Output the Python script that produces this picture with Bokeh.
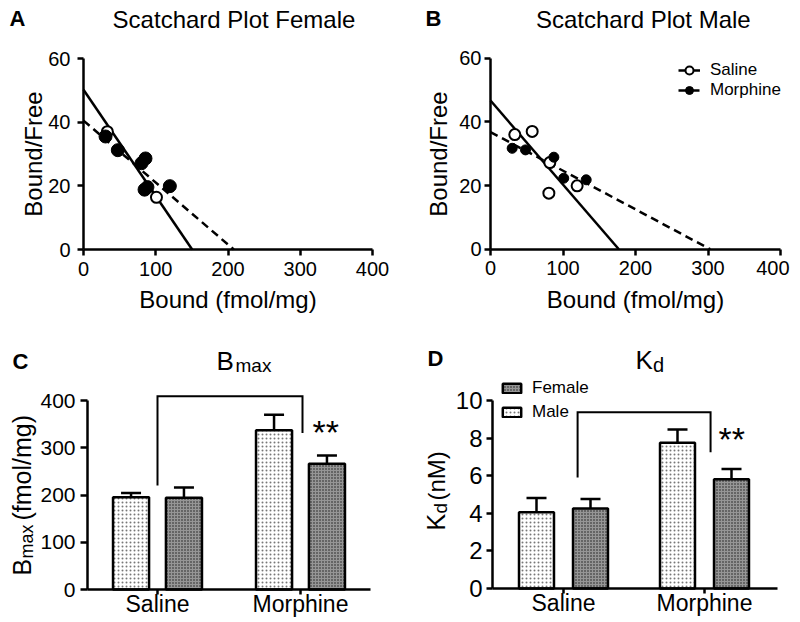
import math
from bokeh.plotting import figure
from bokeh.layouts import column, row
from bokeh.models import (ColumnDataSource, Label, Legend, LegendItem, FixedTicker,
                          Whisker, TeeHead, Range1d)
from bokeh.embed import file_html
from bokeh.resources import INLINE

FONT = "Liberation Sans"

# ---------------- data ----------------
# Panel A: Scatchard plot, female
a_sal_x = [33, 101]
a_sal_y = [37, 16.4]
a_mor_x = [30.5, 47.5, 85.8, 80.3, 84.5, 88.5, 119.5]
a_mor_y = [35.5, 31.2, 28.6, 27.1, 18.8, 19.6, 19.9]
a_sal_fit_x = [0, 150.4]
a_sal_fit_y = [50.2, 0]
a_mor_fit_x = [0, 208]
a_mor_fit_y = [40.5, 0]

# Panel B: Scatchard plot, male
b_sal_x = [33.5, 57.5, 81.8, 80.5, 119.5]
b_sal_y = [36, 37, 27.2, 17.6, 19.9]
b_mor_x = [29.9, 48.3, 87.4, 101, 132]
b_mor_y = [31.7, 31.2, 28.9, 22.3, 21.8]
b_sal_fit_x = [0, 177]
b_sal_fit_y = [46.7, 0]
b_mor_fit_x = [0, 303]
b_mor_fit_y = [36.8, 0]

scat_x_ticks = [0, 100, 200, 300, 400]
scat_y_ticks = [0, 20, 40, 60]

# Panels C/D: bars
groups = ["Saline", "Morphine"]
bmax_male = [195, 337]
bmax_male_err = [9, 33]
bmax_female = [194, 266]
bmax_female_err = [22, 17.5]
bmax_ticks = [0, 100, 200, 300, 400]

kd_male = [4.05, 7.75]
kd_male_err = [0.77, 0.71]
kd_female = [4.26, 5.81]
kd_female_err = [0.50, 0.55]
kd_ticks = [0, 2, 4, 6, 8, 10]

# significance brackets: [left leg bottom, top, right leg bottom]
bmax_bracket = [220, 409, 331]
kd_bracket = [5.91, 9.38, 7.25]

BASE_SHIFT = 0.3  # alphabetic-baseline correction (fraction of font size)


class Panel:
    """A figure whose frame fills its whole canvas; axes sit at fixed data locations."""

    def __init__(self, x0, y0, w, h, xa, ya):
        # xa = (px0, v0, px1, v1) in page pixels, ya likewise (pixels grow downward)
        self.x0, self.y0, self.w, self.h = x0, y0, w, h
        px0, v0, px1, v1 = xa
        self.sx = (px1 - px0) / (v1 - v0)
        self.xp0, self.xv0 = px0, v0
        py0, u0, py1, u1 = ya
        self.sy = (py1 - py0) / (u1 - u0)
        self.yp0, self.yv0 = py0, u0
        xr = Range1d(self.X(x0), self.X(x0 + w))
        yr = Range1d(self.Y(y0 + h), self.Y(y0))
        p = figure(width=w, height=h, x_range=xr, y_range=yr, output_backend="svg",
                   toolbar_location=None, min_border=0)
        p.outline_line_color = None
        p.grid.visible = False
        p.background_fill_color = "white"
        p.border_fill_color = "white"
        self.p = p

    def X(self, px):
        return self.xv0 + (px - self.xp0) / self.sx

    def Y(self, py):
        return self.yv0 + (py - self.yp0) / self.sy

    def text(self, px, py, text, size, bold=False, align="left", angle=0):
        fs = float(size.replace("px", ""))
        if angle:
            px = px - BASE_SHIFT * fs
        else:
            py = py - BASE_SHIFT * fs
        self.p.add_layout(Label(x=self.X(px), y=self.Y(py), text=text, text_font=FONT,
                                text_font_size=size,
                                text_font_style="bold" if bold else "normal",
                                text_align=align, text_baseline="alphabetic",
                                text_color="black", angle=angle))


def style_axis(ax, tick_out, standoff, size):
    ax.axis_line_width = 2.5
    ax.axis_line_color = "black"
    ax.major_tick_line_width = 2.5
    ax.major_tick_line_color = "black"
    ax.major_tick_in = 0
    ax.major_tick_out = tick_out
    ax.minor_tick_line_color = None
    ax.major_label_standoff = standoff
    ax.major_label_text_font = FONT
    ax.major_label_text_font_size = size
    ax.major_label_text_color = "black"
    ax.axis_label_text_font = FONT
    ax.axis_label_text_font_style = "normal"
    ax.axis_label_text_color = "black"
    ax.axis_label_text_font_size = "24px"


def scatter_panel(x0, xa, ya, sal_x, sal_y, mor_x, mor_y, sfx, sfy, mfx, mfy,
                  ylab_standoff, ytick_standoff, filled_size):
    P = Panel(x0, 0, 400, 320, xa, ya)
    p = P.p
    p.xaxis.ticker = FixedTicker(ticks=scat_x_ticks)
    p.yaxis.ticker = FixedTicker(ticks=scat_y_ticks)
    p.xaxis.fixed_location = 0
    p.yaxis.fixed_location = 0
    p.xaxis.bounds = (scat_x_ticks[0], scat_x_ticks[-1])
    p.yaxis.bounds = (scat_y_ticks[0], scat_y_ticks[-1])
    style_axis(p.xaxis[0], 6, 6, "20px")
    style_axis(p.yaxis[0], 6, ytick_standoff, "20px")
    p.xaxis.axis_label = "Bound (fmol/mg)"
    p.yaxis.axis_label = "Bound/Free"
    p.xaxis.axis_label_standoff = 7
    p.yaxis.axis_label_standoff = ylab_standoff
    l1 = p.line(sfx, sfy, line_width=2.5, line_color="black")
    l2 = p.line(mfx, mfy, line_width=2.5, line_color="black", line_dash="8 5")
    s1 = p.scatter(sal_x, sal_y, marker="circle", size=11, fill_color="white",
                   line_color="black", line_width=2)
    s2 = p.scatter(mor_x, mor_y, marker="circle", size=filled_size, fill_color="black",
                   line_color="black", line_width=1)
    return P, (l1, s1, l2, s2)


PA, _ = scatter_panel(0, (83, 0, 372, 400), (249, 0, 58, 60),
                      a_sal_x, a_sal_y, a_mor_x, a_mor_y,
                      a_sal_fit_x, a_sal_fit_y, a_mor_fit_x, a_mor_fit_y, -2, 7, 13)
PA.text(9, 25, "A", "22px", bold=True)
PA.text(233.5, 26, "Scatchard Plot Female", "24px", align="center")

PB, (bl1, bs1, bl2, bs2) = scatter_panel(400, (490, 0, 780, 400), (248.7, 0, 57.7, 60),
                                         b_sal_x, b_sal_y, b_mor_x, b_mor_y,
                                         b_sal_fit_x, b_sal_fit_y, b_mor_fit_x, b_mor_fit_y,
                                         4, 3, 10)
PB.text(425, 25, "B", "22px", bold=True)
PB.text(642.8, 26, "Scatchard Plot Male", "24px", align="center")
# the last tick label sits flush with the right edge, as in the original
last_tick = scat_x_ticks[-1]
PB.p.xaxis.major_label_overrides = {last_tick: ""}
PB.text(789, 273.5, str(last_tick), "20px", align="right")
legB = Legend(items=[LegendItem(label="Saline", renderers=[bl1, bs1]),
                     LegendItem(label="Morphine", renderers=[bl2, bs2])],
              location=(278, 220), orientation="vertical", padding=0, margin=0, spacing=0,
              glyph_width=22, glyph_height=20, label_height=20, label_standoff=10,
              label_text_font=FONT, label_text_font_size="17px", label_text_color="black",
              border_line_color=None, background_fill_alpha=0)
PB.p.add_layout(legB)


def bar_panel(x0, xa, ya, axis_px, ticks, off, width, male, male_err, female, female_err,
              ytick_out, ytick_standoff, ytick_size, bracket, leg_dx, sig_px):
    P = Panel(x0, 320, 400, 302, xa, ya)
    p = P.p
    centers = [i + 1 for i in range(len(groups))]
    p.xaxis.ticker = FixedTicker(ticks=centers)
    p.xaxis.major_label_overrides = {c: g for c, g in zip(centers, groups)}
    p.yaxis.ticker = FixedTicker(ticks=ticks)
    p.xaxis.fixed_location = 0
    p.yaxis.fixed_location = P.X(axis_px[0])
    p.xaxis.bounds = (P.X(axis_px[0]), P.X(axis_px[1]))
    p.yaxis.bounds = (ticks[0], ticks[-1])
    style_axis(p.xaxis[0], 5, -4, "23px")
    style_axis(p.yaxis[0], ytick_out, ytick_standoff, ytick_size)

    src_m = ColumnDataSource(dict(x=[c - off for c in centers], top=male,
                                  err=[t + e for t, e in zip(male, male_err)]))
    src_f = ColumnDataSource(dict(x=[c + off for c in centers], top=female,
                                  err=[t + e for t, e in zip(female, female_err)]))
    for src in (src_m, src_f):
        p.add_layout(Whisker(source=src, base="x", lower="top", upper="err",
                             dimension="height", line_width=2.5, line_color="black",
                             upper_head=TeeHead(size=20, line_width=2.5, line_color="black"),
                             lower_head=None))
    rm = p.vbar(x="x", top="top", bottom=0, width=width, source=src_m, fill_color="white",
                line_color="black", line_width=2.5, hatch_pattern="dot", hatch_scale=4,
                hatch_weight=1, hatch_color="#777777")
    rf = p.vbar(x="x", top="top", bottom=0, width=width, source=src_f, fill_color="#969696",
                line_color="black", line_width=2.5, hatch_pattern="dot", hatch_scale=3,
                hatch_weight=1.2, hatch_color="#1a1a1a")
    bx = [centers[0] + leg_dx[0], centers[0] + leg_dx[0],
          centers[1] + leg_dx[1], centers[1] + leg_dx[1]]
    by = [bracket[0], bracket[1], bracket[1], bracket[2]]
    p.line(bx, by, line_width=2, line_color="black", line_join="miter")
    P.text(sig_px[0], sig_px[1], "**", "34px")
    return P, rm, rf


PC, cm, cf = bar_panel(0, (157, 1, 300, 2), (589, 0, 400, 400), (87, 370), bmax_ticks,
                       0.185, 0.252, bmax_male, bmax_male_err, bmax_female, bmax_female_err,
                       7, 5, "21px", bmax_bracket, [0.0, 0.014], (312, 442))
PC.text(12, 368, "C", "22px", bold=True)
PC.text(216, 368, "B", "26px")
PC.text(235, 371, "max", "19px")
PC.text(29, 575, "B", "25px", angle=math.pi / 2)
PC.text(32, 558, "max", "18px", angle=math.pi / 2)
PC.text(29, 520, "(fmol/mg)", "25px", angle=math.pi / 2)

PD, dm, df = bar_panel(400, (563, 1, 704, 2), (588, 0, 400, 10), (492, 777), kd_ticks,
                       0.1915, 0.248, kd_male, kd_male_err, kd_female, kd_female_err,
                       6, 4, "24px", kd_bracket, [0.1, 0.043], (718, 449))
PD.text(427, 365, "D", "22px", bold=True)
PD.text(635, 367, "K", "26px")
PD.text(652.5, 370, "d", "20px")
PD.text(443, 530, "K", "25px", angle=math.pi / 2)
PD.text(446, 513, "d", "19px", angle=math.pi / 2)
PD.text(443, 500, "(nM)", "24px", angle=math.pi / 2)
legD = Legend(items=[LegendItem(label="Female", renderers=[df]),
                     LegendItem(label="Male", renderers=[dm])],
              location=(100, 198), orientation="vertical", padding=0, margin=0, spacing=0,
              glyph_width=23, glyph_height=12, label_height=24, label_standoff=9,
              label_text_font=FONT, label_text_font_size="17px", label_text_color="black",
              border_line_color=None, background_fill_alpha=0)
PD.p.add_layout(legD)

layout = column(row(PA.p, PB.p), row(PC.p, PD.p))
open("out.html", "w").write(file_html(layout, INLINE))
